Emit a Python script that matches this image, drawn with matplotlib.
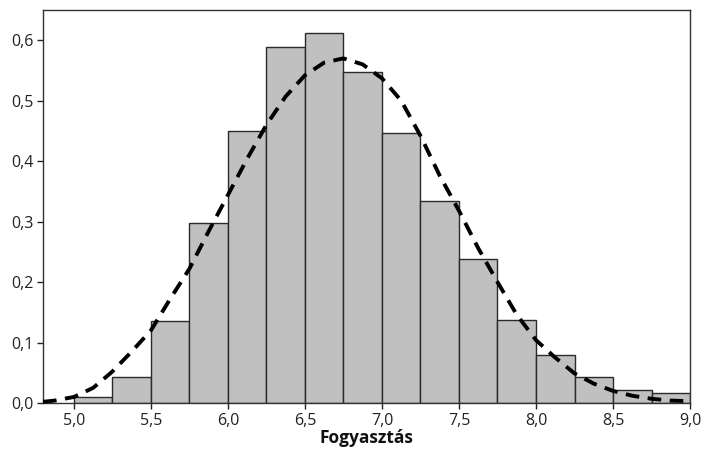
import numpy as np
import matplotlib
matplotlib.use("Agg")
import matplotlib.pyplot as plt
from matplotlib.ticker import FuncFormatter

plt.rcParams['font.family'] = ['Open Sans', 'DejaVu Sans']

# histogram bins and densities
bin_edges = [5.0, 5.25, 5.5, 5.75, 6.0, 6.25, 6.5, 6.75, 7.0,
             7.25, 7.5, 7.75, 8.0, 8.25, 8.5, 8.75, 9.0]
density = [0.010, 0.0435, 0.1355, 0.298, 0.450, 0.589, 0.612, 0.548,
           0.446, 0.334, 0.238, 0.138, 0.080, 0.0435, 0.021, 0.016]

# fitted density curve
curve_x = [4.8, 4.875, 5.0, 5.125, 5.25, 5.375, 5.5, 5.625, 5.75, 5.875,
           6.0, 6.125, 6.25, 6.375, 6.5, 6.625, 6.75, 6.875, 7.0, 7.125,
           7.25, 7.375, 7.5, 7.625, 7.75, 7.875, 8.0, 8.125, 8.25, 8.375,
           8.5, 8.625, 8.75, 8.875, 9.0]
curve_y = [0.002, 0.004, 0.010, 0.025, 0.052, 0.085, 0.120, 0.172, 0.222, 0.284,
           0.344, 0.404, 0.460, 0.507, 0.542, 0.563, 0.570, 0.560, 0.537, 0.500,
           0.442, 0.376, 0.318, 0.256, 0.200, 0.146, 0.104, 0.075, 0.049, 0.032,
           0.020, 0.012, 0.007, 0.004, 0.003]

x_ticks = [5.0, 5.5, 6.0, 6.5, 7.0, 7.5, 8.0, 8.5, 9.0]
y_ticks = [0.0, 0.1, 0.2, 0.3, 0.4, 0.5, 0.6]
x_label = "Fogyasztás"

fig = plt.figure(figsize=(7.02, 4.54), dpi=100)
ax = fig.add_axes([0.0613, 0.1123, 0.9217, 0.8657])

lefts = np.array(bin_edges[:-1])
widths = np.diff(bin_edges)
ax.bar(lefts, density, width=widths, align='edge',
       color='#c0c0c0', edgecolor='#2a2a2a', linewidth=1.0, zorder=2)

ax.plot(curve_x, curve_y, color='black', linestyle=(0, (3.5, 2.2)),
        linewidth=2.8, solid_joinstyle='round', zorder=3, clip_on=False)

ax.set_xlim(4.8, 9.0)
ax.set_ylim(0, 0.65)
ax.set_xticks(x_ticks)
ax.set_yticks(y_ticks)
comma = FuncFormatter(lambda v, p: f"{v:.1f}".replace('.', ','))
ax.xaxis.set_major_formatter(comma)
ax.yaxis.set_major_formatter(comma)
ax.tick_params(direction='out', length=4, width=1, labelsize=11.5, color='#222222',
               labelcolor='#222222', pad=3)

for s in ax.spines.values():
    s.set_color('#333333')
    s.set_linewidth(1.0)

ax.set_xlabel(x_label, fontsize=12.5, fontweight='bold', labelpad=0, color='#111111')

fig.savefig("out.png", dpi=100)
